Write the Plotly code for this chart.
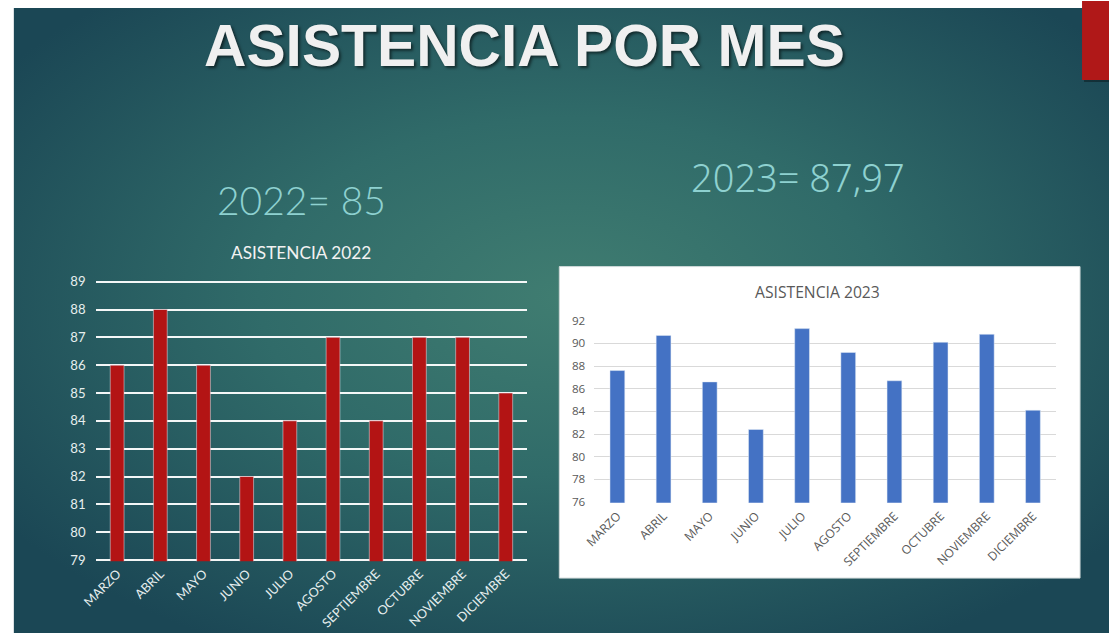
import base64
import plotly.graph_objects as go

# ---- data ----
meses = ["MARZO", "ABRIL", "MAYO", "JUNIO", "JULIO", "AGOSTO",
         "SEPTIEMBRE", "OCTUBRE", "NOVIEMBRE", "DICIEMBRE"]
asistencia_2022 = [86, 88, 86, 82, 84, 87, 84, 87, 87, 85]
asistencia_2023 = [87.6, 90.7, 86.6, 82.4, 91.3, 89.2, 86.7, 90.1, 90.8, 84.1]
ticks_2022 = list(range(79, 90))
ticks_2023 = list(range(76, 93, 2))

W, H = 1109, 633
# empirical correction of the capture (slight shrink toward bottom-right)
SX, SY, X0, Y0 = 0.987, 0.981, 14.4, 6.0


def px(x):  # target picture pixel -> paper fraction
    return ((x - X0) / SX) / W


def py(y):
    return 1 - ((y - Y0) / SY) / H


def fs(s):
    return s / SX


svg = """<svg xmlns='http://www.w3.org/2000/svg' width='1110' height='640' viewBox='0 0 1110 640' preserveAspectRatio='none'>
<defs><radialGradient id='g' cx='0.5' cy='0.45' r='0.62'>
<stop offset='0' stop-color='#407d71'/>
<stop offset='0.45' stop-color='#306b69'/>
<stop offset='1' stop-color='#1b4755'/>
</radialGradient></defs>
<rect width='1110' height='640' fill='url(#g)'/></svg>"""
bg_uri = "data:image/svg+xml;base64," + base64.b64encode(svg.encode()).decode()

fig = go.Figure()

fig.add_trace(go.Bar(x=meses, y=asistencia_2022, marker_color="#b31414",
                     xaxis="x", yaxis="y", showlegend=False, hoverinfo="x+y"))
fig.add_trace(go.Bar(x=meses, y=asistencia_2023, marker_color="#4472c4",
                     xaxis="x2", yaxis="y2", showlegend=False, hoverinfo="x+y"))

fig.update_layout(
    width=W, height=H,
    margin=dict(l=0, r=0, t=0, b=0),
    paper_bgcolor="white",
    plot_bgcolor="rgba(0,0,0,0)",
    bargap=0.68,
    xaxis=dict(domain=[px(95), px(527)], anchor="y", showgrid=False, showline=False,
               tickangle=-45, ticks="", zeroline=False, ticklabelstandoff=2,
               tickfont=dict(family="Lato, Noto Sans, sans-serif", size=fs(12.5), color="#e6eeee")),
    yaxis=dict(domain=[py(561), py(280)], anchor="x", range=[78.96, 89.04], tickvals=ticks_2022,
               showgrid=True, gridcolor="rgba(255,255,255,0.95)", gridwidth=1.6,
               zeroline=False, showline=False, ticks="", ticklabelstandoff=9,
               tickfont=dict(family="Lato, Noto Sans, sans-serif", size=fs(13), color="#e6eeee")),
    xaxis2=dict(domain=[px(594), px(1056)], anchor="y2", showgrid=False, showline=False,
                tickangle=-45, ticks="", zeroline=False, ticklabelstandoff=3,
                tickfont=dict(family="Open Sans, Noto Sans, sans-serif", size=fs(12), color="#595959")),
    yaxis2=dict(domain=[py(502.5), py(319.5)], anchor="x2", range=[75.94, 92.06], tickvals=ticks_2023,
                showgrid=True, gridcolor="#d9d9d9", gridwidth=1,
                zeroline=False, showline=False, ticks="", ticklabelstandoff=8,
                tickfont=dict(family="Open Sans, Noto Sans, sans-serif", size=fs(11.5), color="#595959")),
    images=[dict(source=bg_uri, xref="paper", yref="paper", x=px(13), y=py(7),
                 sizex=px(1125) - px(13), sizey=py(7) - py(650), xanchor="left", yanchor="top",
                 sizing="stretch", layer="below")],
    shapes=[
        dict(type="rect", xref="paper", yref="paper", x0=px(559), x1=px(1080), y0=py(578), y1=py(266),
             fillcolor="white", line=dict(color="#cfd8d8", width=1), layer="below"),
        dict(type="rect", xref="paper", yref="paper", x0=px(1084), x1=px(1125), y0=py(81), y1=py(9),
             fillcolor="rgba(0,0,0,0.35)", line=dict(width=0), layer="above"),
        dict(type="rect", xref="paper", yref="paper", x0=px(1082), x1=px(1125), y0=py(79), y1=py(0),
             fillcolor="#b01818", line=dict(width=0), layer="above"),
    ],
    annotations=[
        dict(text="<b>ASISTENCIA POR MES</b>", xref="paper", yref="paper", x=px(524), y=py(45),
             xanchor="center", yanchor="middle", showarrow=False,
             font=dict(family="Liberation Sans, Arial, sans-serif", size=fs(58), color="#f0f0f0",
                       shadow="2px 2px 3px rgba(0,0,0,0.55)")),
        dict(text="2022= 85", xref="paper", yref="paper", x=px(301), y=py(199),
             xanchor="center", yanchor="middle", showarrow=False,
             font=dict(family="Lato, Noto Sans, sans-serif", size=fs(38.5), color="#8ed1d0", weight=300)),
        dict(text="2023= 87,97", xref="paper", yref="paper", x=px(798), y=py(176),
             xanchor="center", yanchor="middle", showarrow=False,
             font=dict(family="Noto Sans, Open Sans, sans-serif", size=fs(37.5), color="#8ed1d0", weight=300)),
        dict(text="ASISTENCIA 2022", xref="paper", yref="paper", x=px(301), y=py(252),
             xanchor="center", yanchor="middle", showarrow=False,
             font=dict(family="Lato, Noto Sans, sans-serif", size=fs(17), color="#f2f2f2")),
        dict(text="ASISTENCIA 2023", xref="paper", yref="paper", x=px(817), y=py(291),
             xanchor="center", yanchor="middle", showarrow=False,
             font=dict(family="Open Sans, Noto Sans, sans-serif", size=fs(15.5), color="#595959")),
    ],
)

fig.write_html("out.html", config={"displayModeBar": False},
               post_script="document.body.style.margin='0';document.body.style.overflow='hidden';")
